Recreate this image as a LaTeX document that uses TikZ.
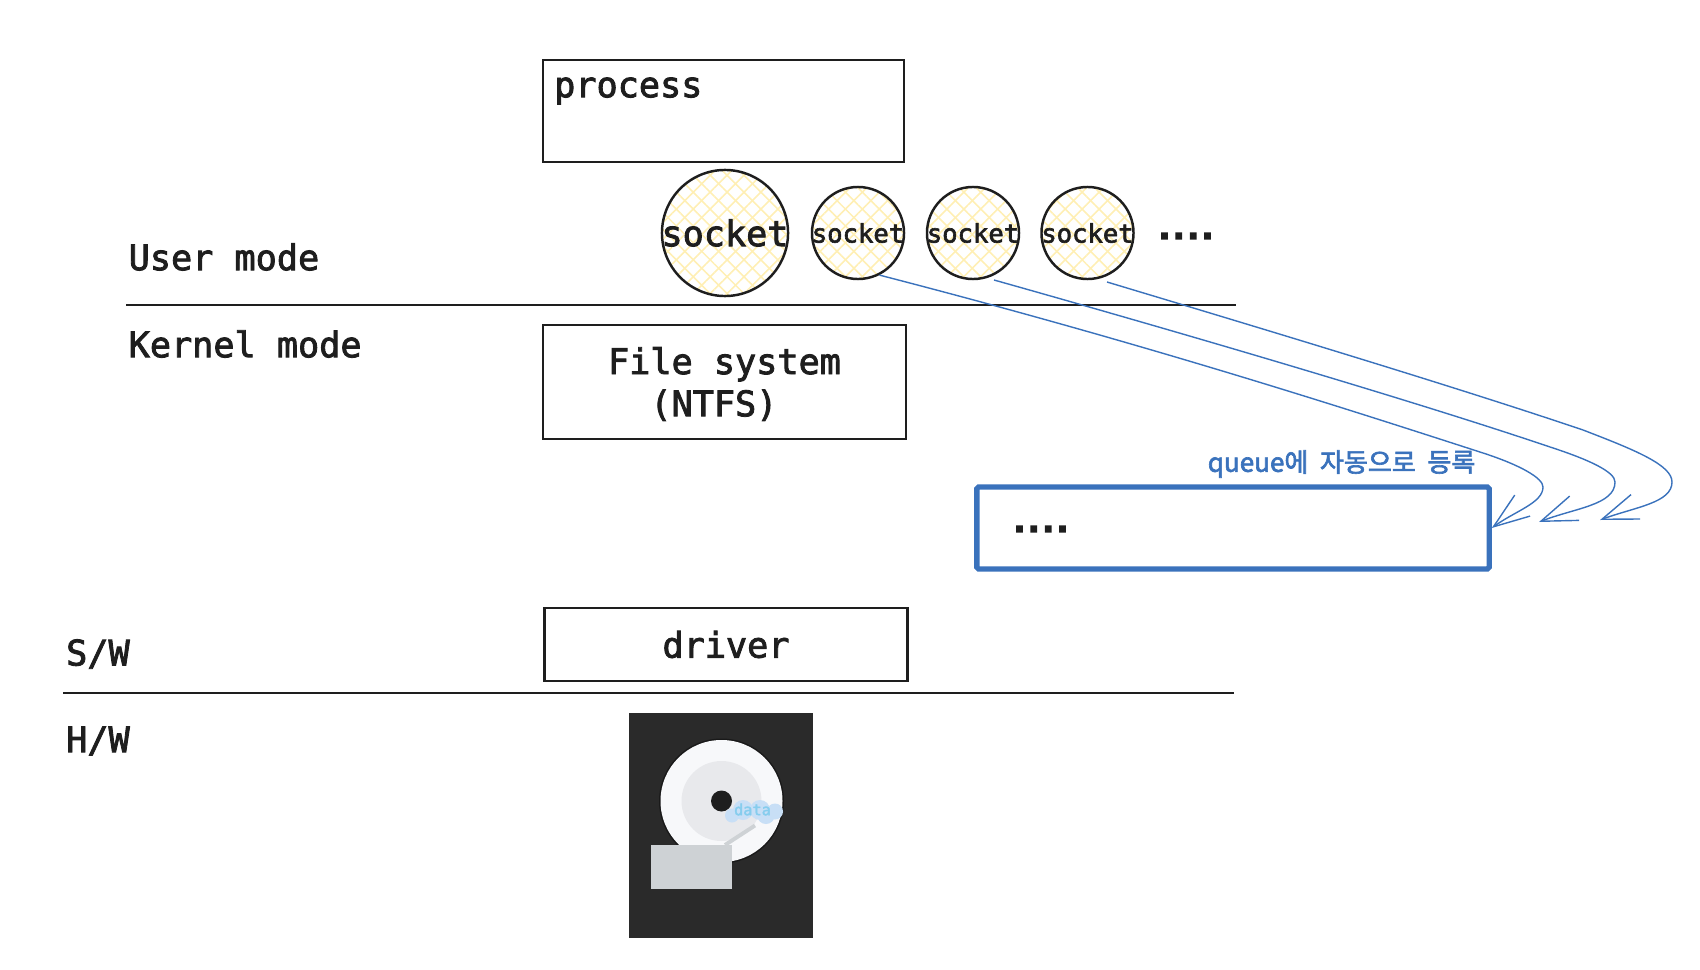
\documentclass[tikz,border=0pt]{standalone}
\usepackage{fontspec}
\setmainfont[FakeBold=2.4]{DejaVu Sans Mono}
\setmonofont{DejaVu Sans Mono}
\newfontfamily\krfont[FakeBold=2.4]{Noto Sans CJK KR}
\newfontfamily\dotsfont[FakeBold=16]{DejaVu Sans Mono}
\usetikzlibrary{arrows.meta,patterns.meta}
\definecolor{inkline}{HTML}{1E1E1E}
\definecolor{queueblue}{HTML}{3A72BC}
\definecolor{hatchyellow}{HTML}{FFEFB4}
\definecolor{hddbody}{HTML}{2A2A2A}
\definecolor{hdddisk}{HTML}{F7F8FA}
\definecolor{hddinner}{HTML}{E8E9EC}
\definecolor{hddgrey}{HTML}{CED2D5}
\definecolor{cloudblue}{HTML}{C8DFF6}
\definecolor{datablue}{HTML}{86CDEE}
\tikzset{
  bigtext/.style={font=\fontsize{10}{12}\selectfont,text=inkline,inner sep=0pt},
  boxnode/.style={draw=inkline,line width=.7pt,inner sep=0pt},
  socknode/.style={circle,draw=inkline,line width=.7pt,inner sep=0pt,
    preaction={pattern={Lines[angle=45,distance=3.4pt,line width=.45pt]},pattern color=hatchyellow},
    preaction={pattern={Lines[angle=-45,distance=3.4pt,line width=.45pt]},pattern color=hatchyellow}},
  bigsock/.style={socknode,minimum size=1.26cm,label={[bigtext]center:socket}},
  smallsock/.style={socknode,minimum size=.92cm,
    label={[font=\fontsize{7.27}{9}\selectfont,text=inkline,inner sep=0pt]center:socket}},
  dotstext/.style={font=\dotsfont\fontsize{6.8}{8}\selectfont,text=inkline,inner sep=0pt},
  modeline/.style={draw=inkline,line width=.8pt},
  queuearrow/.style={draw=queueblue,line width=.4pt,-{Straight Barb[length=10.2pt,width=7.4pt,line width=.4pt]}},
}
\begin{document}
\begin{tikzpicture}[x=.01cm,y=-.01cm]
  \useasboundingbox (0,0) rectangle (1700,970);

  % Boxes
  \node[boxnode,minimum width=3.61cm,minimum height=1.02cm] (process) at (723.5,111) {};
  \node[bigtext,anchor=west] (processlabel) at (553.5,91) {process};
  \node[boxnode,minimum width=3.63cm,minimum height=1.14cm] (fs) at (724.5,382) {};
  \node[bigtext,align=center] (fslabel) at (724.5,384) {File system\\(NTFS)\phantom{x}};
  \node[boxnode,bigtext,minimum width=3.63cm,minimum height=.73cm] (driver) at (726,644.5) {driver};
  \node[draw=queueblue,line width=1.5pt,rounded corners=.5pt,minimum width=5.12cm,minimum height=.82cm] (queue) at (1233,528) {};
  \node[dotstext] (queuedots) at (1041,529) {....};
  \node[text=queueblue,inner sep=0pt,anchor=east,font=\krfont\fontsize{7.4}{9}\selectfont] (queuelabel) at (1476,464) {queue에~~자동으로~~등록};

  % Sockets
  \node[bigsock] (sock1) at (725,233) {};
  \node[smallsock] (sock2) at (858,233) {};
  \node[smallsock] (sock3) at (973,233) {};
  \node[smallsock] (sock4) at (1087.5,233) {};
  \node[dotstext] (sockdots) at (1186,236) {....};

  % Mode lines
  \coordinate (um1) at (126,305);
  \coordinate (um2) at (1236,305);
  \coordinate (sw1) at (63,693);
  \coordinate (sw2) at (1234,693);
  \draw[modeline] (um1) -- (um2);
  \draw[modeline] (sw1) -- (sw2);
  \node[bigtext,anchor=west] (usermode) at (128,257) {User mode};
  \node[bigtext,anchor=west] (kernelmode) at (128,344) {Kernel mode};
  \node[bigtext,anchor=west] (swlabel) at (65.5,654) {S/W};
  \node[bigtext,anchor=west] (hwlabel) at (65.5,741) {H/W};

  % Disk
  \fill[fill=hddbody] (629,713) rectangle (813,938);
  \fill[fill=black!90] (721.5,801) circle (62.5);
  \fill[fill=hdddisk] (721.5,801) circle (61);
  \fill[fill=hddinner] (721.5,801) circle (40);
  \fill[fill=inkline] (721.5,801) circle (10.5);
  \draw[draw=hddgrey,line width=1.1pt] (725,845) -- (755,825.5);
  \fill[fill=hddgrey] (651,845) rectangle (732,889);
  \fill[fill=cloudblue] (732,815.5) circle (7) (743,810) circle (10) (760,810) circle (10)
    (766,815) circle (9) (775,811.5) circle (8);
  \node[font=\fontsize{4.35}{5}\selectfont,text=datablue,inner sep=0pt] (data) at (752.5,809.5) {data};

  % Arrows to the queue
  \coordinate (out3) at (994,280);
  \coordinate (out4) at (1107,282);
  \coordinate (bend2) at (1483,453);
  \coordinate (bend3) at (1550,447);
  \coordinate (bend4) at (1583,430);
  \coordinate (turn2) at (1543,487);
  \coordinate (turn3) at (1615,482);
  \coordinate (turn4) at (1672,482);
  \coordinate (tip3) at (1539,522);
  \coordinate (tip4) at (1600,520);
  \draw[queuearrow] (sock2.-63) .. controls (1150,345) and (1350,410) .. (bend2)
    .. controls (1520,465) and (1543,478) .. (turn2)
    .. controls (1543,503) and (1515,511) .. (queue.0.6);
  \draw[queuearrow] (out3) .. controls (1200,338) and (1420,403) .. (bend3)
    .. controls (1590,460) and (1615,472) .. (turn3)
    .. controls (1615,505) and (1575,508) .. (tip3);
  \draw[queuearrow] (out4) .. controls (1250,325) and (1450,385) .. (bend4)
    .. controls (1635,450) and (1672,465) .. (turn4)
    .. controls (1672,503) and (1635,507) .. (tip4);
\end{tikzpicture}
\end{document}
